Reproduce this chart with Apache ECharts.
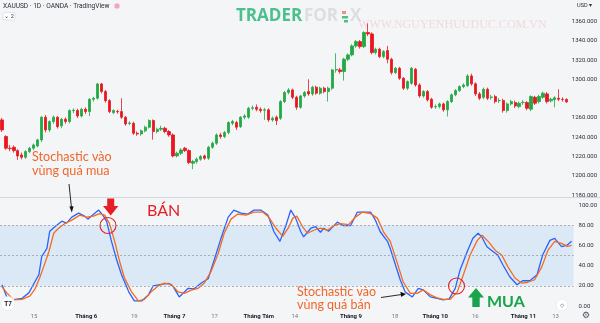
<!DOCTYPE html>
<html>
<head>
<meta charset="utf-8">
<script src="https://cdn.jsdelivr.net/npm/echarts/dist/echarts.min.js"></script>
<style>
html,body{margin:0;padding:0;background:#f4f5f7;}
#c{width:600px;height:323px;}
</style>
</head>
<body>
<div id="c"></div>
<script>
// ---------- DATA ----------
// daily candles [open, close, low, high]
const ohlc = [
[1258,1247.6,1245.5,1260],[1240.7,1228.6,1227,1242],[1228.6,1228.2,1225.5,1232],[1229.6,1226.1,1224,1231.5],
[1226.1,1220.6,1216.5,1227.5],[1221.6,1219.2,1217,1224],[1219.2,1225.1,1217.5,1226.5],[1225.1,1228.6,1223.5,1230],
[1228.6,1232,1226.5,1233.5],[1231,1237.2,1229.5,1238.5],[1237.2,1260.8,1235,1262],[1260.8,1247.6,1245,1263],
[1247.6,1256.3,1245.5,1257.5],[1256.3,1260.8,1254,1262.5],[1260.8,1251,1249,1262],[1251.8,1258.7,1249.5,1260],
[1258.7,1256.3,1254,1260.5],[1256.3,1267.7,1254.5,1269],[1267.5,1268,1265,1270],[1267.7,1262.1,1260,1269.5],
[1262.1,1269,1260.5,1270.5],[1269,1266.6,1264,1271],[1266.6,1279.4,1262,1280.5],[1279.4,1280.5,1277,1282],
[1280.5,1295.3,1279,1296.5],[1295.3,1287.4,1285.5,1296.5],[1287.4,1278,1276,1289],[1278,1266.6,1265,1279.5],
[1265.6,1267.7,1264,1269],[1266.8,1266.4,1264.5,1268.5],[1266.6,1260.8,1259,1280.5],[1260.8,1253.8,1252,1262],
[1254.2,1254.8,1252.5,1256.5],[1254.5,1244.1,1242.5,1256],[1244.1,1243.4,1241.5,1246],[1243.4,1246.6,1241.5,1248],
[1246.6,1250.4,1245,1252],[1250.4,1257.3,1249,1258.5],[1257.3,1245.9,1237.5,1258.5],[1245.9,1248.3,1244,1250],
[1248.3,1249.3,1246.5,1252],[1249.3,1245.9,1244,1251],[1245.9,1242.4,1240.5,1247.5],[1242.4,1220.6,1219,1244],
[1220.6,1223.4,1219,1225],[1223.4,1226.8,1221.5,1228.5],[1228.6,1226.1,1224.5,1230],[1226.1,1213.7,1212,1227.5],
[1213,1214.7,1206.8,1216.5],[1214.7,1217.2,1212.5,1219],[1217.2,1220,1215.5,1221.5],[1220.6,1218.2,1216.5,1222],
[1218.2,1229.6,1216.5,1231],[1229.6,1233.8,1228,1235.5],[1233.8,1242.4,1232,1244],[1242.4,1240.7,1238.5,1244.5],
[1240.7,1244.8,1239,1246.5],[1244.8,1255.2,1243,1256.5],[1254.5,1256.3,1252.5,1258],[1255.2,1250.4,1247.5,1257],
[1251,1260.8,1249.5,1262],[1260.8,1262.1,1258.5,1264],[1260.8,1270.1,1259,1271.5],[1270.1,1270.5,1268,1273],
[1271.1,1269,1267,1274],[1269,1267.7,1265.5,1271],[1268,1268.4,1258,1270.5],[1268.4,1258,1256,1270],
[1258,1259.7,1256,1261.5],[1260.8,1257.3,1252.6,1262.5],[1259.7,1277,1258,1278.5],[1277,1286.4,1275.5,1288],
[1286.4,1289.1,1284.5,1291],[1289.1,1281.5,1279.5,1290.5],[1281.5,1271.1,1268.4,1283],[1271.1,1282.9,1269.5,1284],
[1282.9,1286.4,1281,1288],[1287.4,1285,1283,1300.2],[1285,1291.9,1283,1293.5],[1291.9,1285.7,1284,1293.5],
[1285.7,1290.9,1284,1292.5],[1290.9,1287.4,1285.5,1292.5],[1287.4,1290.9,1277,1292.5],[1290.9,1309.9,1289,1311],
[1309.9,1310.3,1307,1327.2],[1309.9,1308.2,1306,1312],[1308.2,1321,1298.8,1322.5],[1321,1325.5,1319,1327],
[1325.5,1334.8,1324,1336.5],[1334.8,1339.3,1333,1341],[1339.3,1334.1,1332,1341],[1334.1,1348.7,1332.5,1350],
[1348.7,1347.3,1345,1358.3],[1347.3,1327.9,1326,1349],[1327.9,1331.4,1326,1333],[1331.4,1323.7,1322,1333],
[1323.7,1329,1322,1330.5],[1330,1321,1316.8,1334.8],[1321,1307.1,1305,1322.5],[1307.1,1311.6,1305.5,1313],
[1311.6,1301.2,1299.5,1313],[1301.2,1290.9,1289,1302.5],[1290.9,1297.8,1289,1299],[1296,1311.6,1294.5,1313],
[1310.6,1294.3,1292.5,1312],[1294.3,1282.9,1281,1296],[1282.9,1287.4,1281,1289],[1287.4,1278.8,1277,1289],
[1279.5,1271.1,1269.5,1281],[1271.5,1271.8,1269.5,1274],[1271.8,1274.6,1270,1276],[1274.6,1268.4,1266.5,1276],
[1268.4,1277,1261.5,1278.5],[1277,1284,1275.5,1285.5],[1284,1288.4,1282.5,1290],[1288.4,1292.6,1287,1294],
[1292.6,1294.3,1291,1296],[1293.6,1303.7,1292,1305.5],[1303.7,1295.4,1293.5,1306],[1295.4,1285,1283,1297],
[1285,1280.5,1278.5,1287],[1281.5,1289.8,1279.5,1291.5],[1289.8,1280.5,1278.5,1291.5],[1281.3,1281.7,1279,1284],
[1282.2,1277,1275,1284],[1278,1278.1,1275.5,1280.5],[1278.1,1267.7,1265.5,1280],[1267.7,1274.6,1265.5,1276],
[1274.6,1277,1273,1279],[1276,1272.5,1270.5,1278],[1271.8,1275.3,1270,1277],[1276,1276.2,1273.5,1278.5],
[1276,1270.1,1268,1277.5],[1269.1,1282.2,1267,1283.5],[1281.5,1275.3,1273.5,1283],[1277,1282.2,1275,1284],
[1281.5,1285.7,1280,1287.5],[1285,1277,1275,1287],[1277.8,1279.5,1276,1281],[1279,1281,1271,1282.5],
[1280.5,1279.4,1277.5,1289.8],[1279.4,1279.2,1277,1281.5],[1279.2,1276.752,1275.5,1280.5]
];
const lastPrice = 1276.752;

// Stochastic %K (blue) and %D (orange): [bar index, value]
const stochK = [
[0,21],[1.2,9],[2.5,6],[5,7.6],[6.7,13],[8.2,24],[9.2,31],[9.9,49],[11.2,57],[11.9,74],[13.2,78.5],[14.9,84],
[16.1,82],[17.4,88],[19.1,92],[20.6,89],[21.4,86],[22.3,89],[24.1,95],[25.3,89],[26.1,83.5],[27.3,64],[28.6,45.5],
[29.8,31],[31.6,14],[33,5],[34.8,5],[36.5,11],[37.7,20],[39.7,21.5],[41.5,22.5],[42.7,19],[44.2,9],[46.4,17.5],
[47.9,17],[49.6,22.5],[51.4,27],[52.9,45.5],[54.6,67],[56.4,88],[57.8,95],[59.6,92],[61.3,91],[62.8,95],[64.5,95],
[66.3,90],[67.8,73.5],[69.3,64],[70.8,80],[72,95],[73.2,87],[74.5,73.5],[75.2,68.5],[77,77],[78.2,78.5],[79.4,73],
[80.2,77],[81.4,74],[83.6,83],[85.2,79.5],[86.9,79.5],[88.6,93],[90.1,93],[91.9,93],[93.1,85],[94.3,73.5],[96.1,64],
[96.8,57],[98.1,40.6],[99.3,25.7],[100.5,14],[102.3,9],[103.8,17.5],[105,16],[106.8,9],[108.5,7.6],[110,6],[111.5,7],
[113,17.5],[114.2,35.6],[116,54],[117.4,67],[118.7,72],[119.6,68.6],[120.9,58.7],[122.4,54],[123.6,50.5],[124.9,40.6],
[126.6,29],[128.4,21],[129.8,25],[131.6,25],[133.4,31],[134.8,50.5],[136.6,65],[137.8,67],[139.5,58.7],[140.8,60],[142,64]
];
const stochD = [
[0,19],[1.2,13],[2.9,6],[5,6.5],[7,10],[8.2,16.6],[9.4,28],[10.4,39],[11.7,54],[12.9,72],[14.1,77],[15.6,81.5],
[17.4,85],[19.4,90],[21.1,88],[22.8,89],[24.3,91.5],[25.6,90],[26.8,81.5],[28.1,64],[29.3,44.5],[30.5,28],[32.3,14],
[34,5],[35.5,6.5],[37.2,14],[39,20],[40.5,22.6],[42.2,21.5],[43.9,14],[45.4,12.5],[47.2,15.8],[48.9,17.5],[50.4,22.5],
[52.1,34],[53.9,52],[55.4,72],[57.1,86],[58.8,91],[60.8,90],[62.8,93],[65,93],[66.5,88],[68.3,77],[70,69],[71.5,78],
[72.5,87],[73.5,89],[75,78],[76.2,72],[77.7,75],[79.4,77],[81.2,75],[82.7,79.5],[84.4,81.5],[86.4,80.5],[88.1,88],
[89.9,93],[91.9,91.5],[93.6,87],[95.1,73.5],[96.8,64],[98.6,42],[100,24],[101.8,12.5],[103.5,12.5],[105,16],[106.8,11],
[108.5,8],[110,6.5],[111.7,6.5],[113.5,14],[115,30.6],[116.7,50.5],[118.5,65],[119.7,70],[121.2,64],[123,55],[124.6,50.5],
[126.1,39],[127.9,27.7],[129.6,22.6],[131.1,23.5],[132.8,26],[134.6,39],[136.1,55],[137.8,64],[139.5,62],[141,59],[142,60]
];

// time axis tick labels: [bar index, text]
const xTickIdx  = [8, 21, 33, 43, 53, 64, 73, 87, 98, 108, 118, 130, 138];
const xTickText = ['15','Tháng 6','19','Tháng 7','17','Tháng Tám','14','Tháng 9','18','Tháng 10','16','Tháng 11','13'];

// categories: trading days starting 2017-05-03
const categories = [];
(function(){
  const d = new Date(Date.UTC(2017,4,3));
  while (categories.length < ohlc.length) {
    const wd = d.getUTCDay();
    if (wd !== 0 && wd !== 6) categories.push(d.toISOString().slice(0,10));
    d.setUTCDate(d.getUTCDate()+1);
  }
})();
const tickMap = {};
xTickIdx.forEach((i,k)=>{ tickMap[i] = xTickText[k]; });

// ---------- CHART ----------
const UP = '#22a845', DOWN = '#e8161f';
const BLUE = '#2962ff', ORANGE = '#f76a1c';
const AXF = 'Roboto, "Liberation Sans", sans-serif';
const chart = echarts.init(document.getElementById('c'), null, {renderer:'canvas'});

function txt(x,y,text,font,fill,align,valign){
  return {type:'text', silent:true, z:100, style:{x:x,y:y,text:text,font:font,fill:fill,
    align:align||'left', verticalAlign:valign||'middle', textAlign:align||'left', textVerticalAlign:valign||'middle'}};
}

const option = {
  animation:false,
  backgroundColor:'#f4f5f7',
  grid:[
    {left:-2, right:26, top:2.4, height:192.6},
    {left:-2, right:26, top:205, height:101}
  ],
  xAxis:[
    {type:'category', gridIndex:0, data:categories, boundaryGap:true, show:false},
    {type:'category', gridIndex:1, data:categories, boundaryGap:true,
     axisLine:{show:false}, axisTick:{show:false}, splitLine:{show:false},
     axisLabel:{show:true, margin:7, fontSize:6, fontFamily:AXF,
       interval:function(i){ return tickMap[i] !== undefined; },
       formatter:function(v,i){ const t = tickMap[i]; if (t===undefined) return '';
         return t.indexOf('Tháng')===0 ? '{m|'+t+'}' : '{d|'+t+'}'; },
       rich:{m:{fontSize:6,fontFamily:AXF,color:'#131722',fontWeight:'bold'},
             d:{fontSize:6,fontFamily:AXF,color:'#787b86'}}}},
    {type:'value', gridIndex:1, min:-0.5, max:ohlc.length-0.5, show:false}
  ],
  yAxis:[
    {type:'value', gridIndex:0, position:'right', min:1180, max:1380, interval:20,
     axisLine:{show:false}, axisTick:{show:false}, splitLine:{show:false},
     axisLabel:{margin:3, fontSize:6, fontFamily:AXF, color:'#2a2e39',
       showMaxLabel:false,
       formatter:function(v){ return (v===1280||v===1380) ? '' : v.toFixed(3); }}},
    {type:'value', gridIndex:1, position:'right', min:0, max:100, interval:20,
     axisLine:{show:false}, axisTick:{show:false}, splitLine:{show:false},
     axisLabel:{margin:5, fontSize:6, fontFamily:AXF, color:'#2a2e39',
       formatter:function(v){ return v.toFixed(2); }}}
  ],
  series:[
    {type:'candlestick', xAxisIndex:0, yAxisIndex:0, data:ohlc, barWidth:2.7,
     itemStyle:{color:UP, color0:DOWN, borderColor:UP, borderColor0:DOWN, borderWidth:0.8},
     markLine:{silent:true, symbol:'none', data:[{yAxis:lastPrice}],
       lineStyle:{opacity:0},
       label:{show:true, position:'end', distance:1, formatter:'1276.752',
         backgroundColor:'#ffffff', borderColor:'#8a8d96', borderWidth:0.8, borderRadius:2,
         padding:[1,2,1,2], fontSize:6, fontFamily:AXF, color:'#131722'}}},
    {type:'line', name:'K', xAxisIndex:2, yAxisIndex:1, data:stochK, symbol:'none',
     lineStyle:{color:BLUE, width:1.3}, z:3,
     markArea:{silent:true, itemStyle:{color:'rgba(41,150,243,0.12)'}, data:[[{yAxis:20},{yAxis:80}]]},
     markLine:{silent:true, symbol:'none', label:{show:false},
       lineStyle:{color:'#9a9da6', type:[2,2], width:0.8},
       data:[{yAxis:80},{yAxis:50},{yAxis:20}]}},
    {type:'line', name:'D', xAxisIndex:2, yAxisIndex:1, data:stochD, symbol:'none',
     lineStyle:{color:ORANGE, width:1.3}, z:4}
  ],
  graphic:[
    // pane separator
    {type:'line', silent:true, shape:{x1:0,y1:197.5,x2:600,y2:197.5}, style:{stroke:'#d3d6dc', lineWidth:1}},
    // header
    txt(3,6,'XAUUSD · 1D · OANDA · TradingView','6.6px '+AXF,'#2a2e39'),
    {type:'rect', silent:true, shape:{x:114.5,y:3.5,width:5,height:5,r:1.5}, style:{fill:'#f6a3c3'}},
    {type:'rect', silent:true, shape:{x:3,y:12.5,width:12,height:7.5,r:1.5}, style:{fill:'#ffffff',stroke:'#d6d9e0',lineWidth:0.7}},
    txt(9,16.3,'⌄ 2','5.5px '+AXF,'#2a2e39','center'),
    txt(577,5.5,'USD ▾','5.6px '+AXF,'#2a2e39'),
    // watermark
    txt(236,16,'TRADER','bold 17px "Open Sans", sans-serif','#4cc08c'),
    txt(304,16,'FOR','bold 17px "Open Sans", sans-serif','#dcdee2'),
    {type:'rect', silent:true, shape:{x:342,y:11,width:4,height:3}, style:{fill:'#ef8e8e'}},
    {type:'rect', silent:true, shape:{x:342,y:16,width:6,height:2.5}, style:{fill:'#4cc08c'}},
    {type:'rect', silent:true, shape:{x:344,y:20,width:4,height:2.5}, style:{fill:'#4cc08c'}},
    txt(350,16,'X','bold 17px "Open Sans", sans-serif','#dcdee2'),
    txt(358,25,'WWW.NGUYENHUUDUC.COM.VN','12px "Liberation Serif", serif','rgba(236,160,160,0.32)'),
    // annotation: overbought
    txt(32,157,'Stochastic vào','12.6px Lato, sans-serif','#f0672a'),
    txt(32,171,'vùng quá mua','12.6px Lato, sans-serif','#f0672a'),
    {type:'line', silent:true, z:100, shape:{x1:69,y1:184,x2:71.4,y2:207}, style:{stroke:'#111',lineWidth:0.9}},
    {type:'polygon', silent:true, z:100, shape:{points:[[71.8,212.5],[69.4,206.5],[73.6,206.2]]}, style:{fill:'#111'}},
    // red sell arrow
    {type:'rect', silent:true, z:100, shape:{x:107.2,y:198.5,width:7,height:8}, style:{fill:'#e61e25'}},
    {type:'polygon', silent:true, z:100, shape:{points:[[103,206],[118.4,206],[110.7,215.5]]}, style:{fill:'#e61e25'}},
    txt(147,210.5,'BÁN','16px Lato, sans-serif','#e61e25'),
    {type:'circle', silent:true, z:100, shape:{cx:108,cy:225.5,r:8}, style:{fill:'none',stroke:'#e61e25',lineWidth:1.1}},
    // annotation: oversold
    txt(297,292,'Stochastic vào','12.5px Lato, sans-serif','#f0672a'),
    txt(297,305,'vùng quá bán','12.5px Lato, sans-serif','#f0672a'),
    {type:'line', silent:true, z:100, shape:{x1:381,y1:297.5,x2:401,y2:294.6}, style:{stroke:'#111',lineWidth:0.9}},
    {type:'polygon', silent:true, z:100, shape:{points:[[406,293.9],[400.4,291.7],[401.2,296.9]]}, style:{fill:'#111'}},
    {type:'circle', silent:true, z:100, shape:{cx:456.5,cy:286,r:8}, style:{fill:'none',stroke:'#e61e25',lineWidth:1.1}},
    // green buy arrow
    {type:'polygon', silent:true, z:100, shape:{points:[[468,297.5],[484,297.5],[476,288]]}, style:{fill:'#1aa34a'}},
    {type:'rect', silent:true, z:100, shape:{x:472.3,y:297,width:7.4,height:10}, style:{fill:'#1aa34a'}},
    txt(487,301.5,'MUA','bold 16px Lato, sans-serif','#1aa34a'),
    // UI icons
    {type:'circle', silent:true, z:100, shape:{cx:8,cy:303.5,r:7}, style:{fill:'#ffffff',stroke:'#e3e5ea',lineWidth:0.7}},
    txt(8,303.8,'T7','bold 6.5px "Liberation Sans", sans-serif','#131722','center'),
    {type:'circle', silent:true, z:100, shape:{cx:562,cy:305,r:6}, style:{fill:'#ffffff',stroke:'#e3e5ea',lineWidth:0.7}},
    txt(562,305.3,'◇','5.5px "DejaVu Sans", sans-serif','#555a66','center'),
    txt(586,316,'⚙','9px "DejaVu Sans", sans-serif','#50535e','center')
  ]
};
chart.setOption(option);
</script>
</body>
</html>
